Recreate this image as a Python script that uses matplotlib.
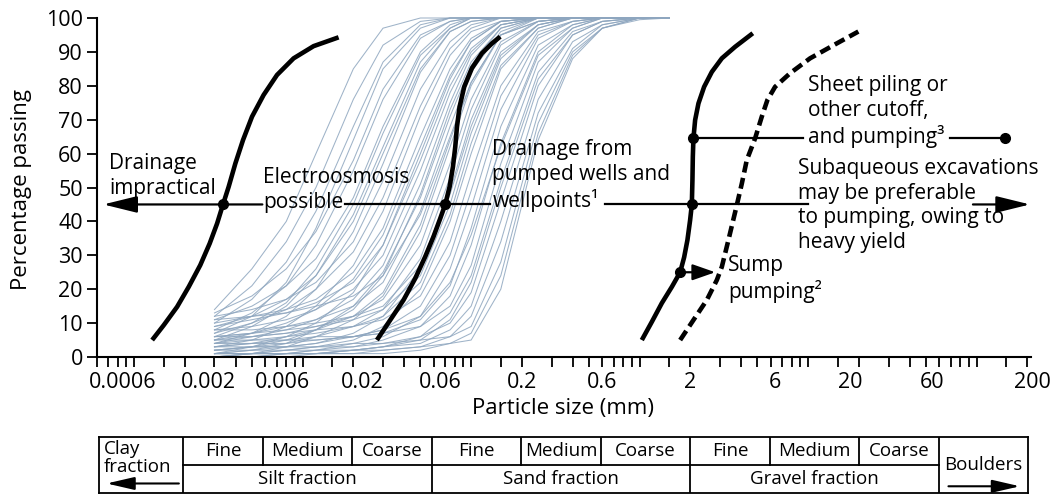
import numpy as np
import matplotlib
matplotlib.use('Agg')
import matplotlib.pyplot as plt
import matplotlib.ticker as mticker
from matplotlib.transforms import ScaledTranslation

plt.rcParams['font.family'] = ['Open Sans', 'DejaVu Sans']

# ---------------- data ----------------
sieve_mm = [0.003, 0.005, 0.008, 0.012, 0.02, 0.03, 0.05, 0.075, 0.1, 0.15, 0.25, 0.4, 0.6, 1.0, 1.5]

fine_soils = [
    [14, 26, 40, 60, 85, 97, 100, 100, 100, 100, 100, 100, 100, 100, 100],
    [12, 21, 34, 50, 76, 92, 99, 100, 100, 100, 100, 100, 100, 100, 100],
    [10, 17, 28, 43, 68, 87, 98, 100, 100, 100, 100, 100, 100, 100, 100],
    [13, 18, 26, 37, 58, 79, 95, 99, 100, 100, 100, 100, 100, 100, 100],
    [8, 13, 21, 33, 55, 76, 94, 99, 100, 100, 100, 100, 100, 100, 100],
    [11, 15, 21, 29, 47, 68, 90, 98, 100, 100, 100, 100, 100, 100, 100],
    [6, 10, 16, 26, 45, 66, 89, 97, 100, 100, 100, 100, 100, 100, 100],
    [9, 12, 17, 24, 40, 60, 85, 96, 99, 100, 100, 100, 100, 100, 100],
    [4, 7, 12, 20, 37, 57, 84, 96, 99, 100, 100, 100, 100, 100, 100],
    [12, 14, 17, 22, 34, 52, 79, 93, 98, 100, 100, 100, 100, 100, 100],
    [7, 12, 22, 38, 64, 85, 97, 100, 100, 100, 100, 100, 100, 100, 100],
    [5, 9, 15, 24, 42, 62, 87, 97, 100, 100, 100, 100, 100, 100, 100],
]
medium_soils = [
    [7, 10, 14, 20, 31, 47, 74, 91, 97, 100, 100, 100, 100, 100, 100],
    [3, 5, 9, 15, 27, 43, 71, 89, 96, 99, 100, 100, 100, 100, 100],
    [10, 12, 14, 17, 25, 38, 65, 85, 94, 99, 100, 100, 100, 100, 100],
    [5, 7, 10, 14, 23, 36, 62, 83, 93, 99, 100, 100, 100, 100, 100],
    [2, 3, 6, 10, 19, 33, 60, 82, 93, 99, 100, 100, 100, 100, 100],
    [8, 9, 11, 14, 20, 30, 55, 78, 90, 98, 100, 100, 100, 100, 100],
    [4, 6, 8, 11, 17, 27, 51, 75, 89, 98, 100, 100, 100, 100, 100],
    [1, 2, 4, 8, 14, 24, 48, 73, 87, 97, 100, 100, 100, 100, 100],
    [6, 7, 9, 11, 15, 22, 43, 68, 84, 96, 100, 100, 100, 100, 100],
    [11, 12, 13, 15, 18, 24, 42, 65, 81, 95, 100, 100, 100, 100, 100],
    [3, 4, 6, 8, 12, 19, 39, 64, 81, 95, 99, 100, 100, 100, 100],
    [0, 1, 3, 6, 11, 18, 37, 62, 80, 95, 99, 100, 100, 100, 100],
    [5, 6, 7, 9, 12, 17, 33, 57, 76, 93, 99, 100, 100, 100, 100],
    [2, 3, 4, 6, 9, 14, 29, 53, 73, 92, 99, 100, 100, 100, 100],
    [8, 8, 9, 10, 12, 15, 27, 49, 70, 90, 98, 100, 100, 100, 100],
    [1, 2, 3, 4, 7, 12, 26, 48, 68, 89, 98, 100, 100, 100, 100],
    [4, 5, 6, 7, 9, 12, 22, 42, 63, 86, 97, 100, 100, 100, 100],
    [0, 1, 2, 3, 5, 9, 20, 40, 60, 85, 97, 100, 100, 100, 100],
    [9, 11, 13, 16, 22, 33, 58, 80, 91, 98, 100, 100, 100, 100, 100],
    [1, 3, 5, 8, 15, 25, 47, 71, 86, 97, 100, 100, 100, 100, 100],
    [6, 7, 8, 9, 11, 14, 24, 45, 66, 88, 98, 100, 100, 100, 100],
]
coarse_soils = [
    [6, 6, 7, 8, 9, 11, 18, 34, 54, 80, 96, 99, 100, 100, 100],
    [2, 3, 3, 4, 6, 8, 15, 30, 49, 77, 95, 99, 100, 100, 100],
    [0, 1, 1, 2, 4, 6, 12, 26, 44, 73, 94, 99, 100, 100, 100],
    [3, 4, 4, 5, 6, 7, 11, 21, 38, 68, 92, 98, 100, 100, 100],
    [1, 1, 2, 2, 3, 5, 9, 18, 33, 63, 90, 98, 100, 100, 100],
    [5, 5, 5, 6, 6, 7, 9, 15, 27, 57, 87, 97, 100, 100, 100],
    [0, 0, 1, 1, 2, 3, 6, 13, 24, 52, 84, 96, 99, 100, 100],
    [2, 2, 2, 3, 3, 4, 6, 10, 19, 46, 80, 95, 99, 100, 100],
    [1, 1, 1, 1, 2, 3, 4, 8, 15, 40, 76, 93, 98, 100, 100],
    [0, 0, 0, 1, 1, 2, 3, 6, 12, 34, 72, 91, 98, 100, 100],
    [3, 3, 3, 3, 4, 4, 5, 6, 9, 28, 69, 90, 97, 100, 100],
    [0, 0, 1, 1, 1, 1, 2, 4, 7, 24, 66, 89, 97, 100, 100],
    [1, 1, 1, 1, 2, 2, 3, 4, 5, 20, 64, 88, 97, 99.5, 100],
    [4, 4, 5, 5, 6, 8, 12, 22, 36, 62, 89, 97, 100, 100, 100],
    [1, 1, 1, 2, 2, 3, 5, 11, 22, 50, 82, 95, 99, 100, 100],
]

# boundary curves (thick black)
impractical_x = [0.00128, 0.0015, 0.0018, 0.00211, 0.00247, 0.00281, 0.00311, 0.00337, 0.00364,
                 0.00399, 0.00443, 0.00501, 0.00587, 0.00705, 0.00884, 0.01162, 0.01635]
impractical_y = [5.0, 9.4, 14.8, 20.7, 27.1, 33.5, 39.4, 45.0, 50.2,
                 57.1, 64.0, 70.9, 77.3, 83.2, 88.1, 91.7, 94.3]
wells_x = [0.0276, 0.0331, 0.0397, 0.0466, 0.0534, 0.0598, 0.0656, 0.0702, 0.0745,
           0.078, 0.0805, 0.0824, 0.0854, 0.091, 0.1011, 0.1159, 0.1329, 0.1488]
wells_y = [5.0, 10.9, 16.8, 23.2, 29.6, 35.5, 40.9, 45.0, 50.2,
           56.1, 62.0, 67.9, 73.8, 79.7, 85.2, 89.6, 92.5, 94.5]
sump_x = [1.03, 1.182, 1.354, 1.553, 1.739, 1.836, 1.921, 1.993, 2.04, 2.057,
          2.068, 2.085, 2.134, 2.233, 2.413, 2.681, 3.074, 3.685, 4.692]
sump_y = [5.0, 10.4, 15.9, 20.7, 25.0, 29.4, 34.5, 40.4, 45.0, 52.2,
          59.1, 64.5, 69.9, 74.8, 79.7, 84.1, 88.1, 91.5, 95.5]
cutoff_x = [1.739, 2.085, 2.503, 2.871, 3.074, 3.363, 3.772, 4.04, 4.323,
            4.843, 5.306, 5.728, 6.363, 7.808, 10.26, 14.78, 19.85]
cutoff_y = [5.0, 10.9, 16.8, 22.7, 26.6, 34.5, 44.8, 51.2, 58.1,
            64.5, 70.9, 75.8, 79.7, 83.7, 88.1, 92.5, 96.0]

# annotation points
dot_x = [0.00337, 0.0702, 2.04, 1.739, 2.085, 148]
dot_y = [45, 45, 45, 25, 64.5, 64.5]

x_major = [0.0006, 0.002, 0.006, 0.02, 0.06, 0.2, 0.6, 2, 6, 20, 60, 200]
x_major_labels = ['0.0006', '0.002', '0.006', '0.02', '0.06', '0.2', '0.6', '2', '6', '20', '60', '200']
label_shift_px = [26, 24, 17, 9, 7, 0, 0, 0, 4, -9, -7, 5]
minor_mult = [1, 1.5, 3, 4, 5, 7, 8, 9]
decades = [0.0001, 0.001, 0.01, 0.1, 1, 10, 100]

sub_edges = [0.002, 0.006, 0.02, 0.06, 0.2, 0.6, 2, 6, 20, 60]
sub_names = ['Fine', 'Medium', 'Coarse'] * 3
fraction_edges = [0.002, 0.06, 2, 60]
fraction_names = ['Silt fraction', 'Sand fraction', 'Gravel fraction']

# ---------------- figure ----------------
W, H = 1059, 494
fig = plt.figure(figsize=(W / 100, H / 100), dpi=100)
ax = fig.add_axes([96.7 / W, 137 / H, 934.3 / W, 339 / H])
ax.set_xscale('log')
ax.set_xlim(0.0006, 210)
ax.set_ylim(0, 100)

blue = '#8ea6bf'
for group in (fine_soils, medium_soils, coarse_soils):
    for row in group:
        ax.plot(sieve_mm, row, color=blue, lw=0.75, alpha=0.85, clip_on=False, zorder=1)

kw = dict(color='black', lw=3.3, solid_capstyle='butt', solid_joinstyle='round', zorder=3)
ax.plot(impractical_x, impractical_y, **kw)
ax.plot(wells_x, wells_y, **kw)
ax.plot(sump_x, sump_y, **kw)
ax.plot(cutoff_x, cutoff_y, color='black', lw=3.3, dashes=(2.4, 1.2), zorder=3)

# horizontal decision lines
hl = dict(color='black', lw=1.6, zorder=4)
ax.plot([0.0179, 0.1297], [45, 45], **hl)
ax.plot([0.624, 9.98], [45, 45], **hl)
ax.plot([2.085, 9.33], [64.5, 64.5], **hl)
ax.plot([69.5, 148], [64.5, 64.5], **hl)
arr = dict(arrowstyle='-|>,head_length=1.3,head_width=0.32', color='black', lw=1.6,
           mutation_scale=16, shrinkA=0, shrinkB=0)
ax.annotate('', xy=(0.000657, 45), xytext=(0.00577, 45), arrowprops=arr, zorder=4)
ax.annotate('', xy=(207, 45), xytext=(95, 45), arrowprops=arr, zorder=4, annotation_clip=False)
arr2 = dict(arrowstyle='-|>,head_length=1.0,head_width=0.35', color='black', lw=1.6,
            mutation_scale=14, shrinkA=0, shrinkB=0)
ax.annotate('', xy=(2.81, 25), xytext=(1.739, 25), arrowprops=arr2, zorder=4)

ax.plot(dot_x, dot_y, 'o', color='black', ms=7, zorder=5, clip_on=False)

# texts (y = baseline of the last line)
fs = 15
tk = dict(fontsize=fs, va='baseline', ha='left', linespacing=1.25, zorder=6)
ax.text(0.000714, 48.1, 'Drainage\nimpractical', **tk)
ax.text(0.00585, 44.0, 'Electroosmosis\npossible', **tk)
ax.text(0.1335, 44.2, 'Drainage from\npumped wells and\nwellpoints\u00b9', **tk)
ax.text(9.98, 63.1, 'Sheet piling or\nother cutoff,\nand pumping\u00b3', **tk)
ax.text(8.71, 32.2, 'Subaqueous excavations\nmay be preferable\nto pumping, owing to\nheavy yield',
        fontsize=fs, va='baseline', ha='left', linespacing=1.22, zorder=6)
ax.text(3.35, 17.4, 'Sump\npumping\u00b2', **tk)

# axes styling
for s in ['top', 'right']:
    ax.spines[s].set_visible(False)
for s in ['left', 'bottom']:
    ax.spines[s].set_linewidth(1.5)
ax.set_yticks(range(0, 101, 10))
ax.tick_params(axis='y', direction='out', length=7, width=1.3, labelsize=15.5, pad=3)
ax.set_xticks(x_major)
ax.set_xticklabels(x_major_labels)
minor_vals = [d * m for d in decades for m in minor_mult if 0.0006 < d * m < 210 and d * m not in x_major]
ax.xaxis.set_minor_locator(mticker.FixedLocator(minor_vals))
ax.xaxis.set_minor_formatter(mticker.NullFormatter())
ax.tick_params(axis='x', which='both', direction='out', length=7, width=1.3, labelsize=15.5, pad=4)
for lab, dx in zip(ax.get_xticklabels(), label_shift_px):
    lab.set_transform(lab.get_transform() + ScaledTranslation(dx / 100, 0, fig.dpi_scale_trans))

fig.text(22 / W, 1 - 190 / H, 'Percentage passing', rotation=90, ha='center', va='center', fontsize=16)
fig.text(563 / W, 1 - 408 / H, 'Particle size (mm)', ha='center', va='center', fontsize=16)

# ---------------- classification table ----------------
tx = fig.add_axes([99 / W, 1 / H, 929 / W, 56 / H])
tx.set_xscale('log')
tx.set_xlim(0.00064, 201)
tx.set_ylim(0, 1)
tx.set_xticks([])
tx.xaxis.set_minor_locator(mticker.NullLocator())
tx.set_yticks([])
for s in tx.spines.values():
    s.set_linewidth(1.3)
for e in sub_edges:
    full = e in fraction_edges
    tx.plot([e, e], [0 if full else 0.5, 1], color='black', lw=1.3)
tx.plot([fraction_edges[0], fraction_edges[-1]], [0.5, 0.5], color='black', lw=1.3)
tfs = 13.5
for i, name in enumerate(sub_names):
    xc = np.sqrt(sub_edges[i] * sub_edges[i + 1])
    tx.text(xc, 0.75, name, ha='center', va='center', fontsize=tfs)
for i, name in enumerate(fraction_names):
    xc = np.sqrt(fraction_edges[i] * fraction_edges[i + 1])
    tx.text(xc, 0.25, name, ha='center', va='center', fontsize=tfs)
tx.text(0.00068, 0.94, 'Clay\nfraction', ha='left', va='top', fontsize=tfs, linespacing=1.0)
tx.text(np.sqrt(60 * 201), 0.5, 'Boulders', ha='center', va='center', fontsize=tfs)
arr3 = dict(arrowstyle='-|>,head_length=1.3,head_width=0.3', color='black', lw=1.5,
            mutation_scale=13, shrinkA=0, shrinkB=0)
tx.annotate('', xy=(0.00071, 0.17), xytext=(0.0019, 0.17), arrowprops=arr3)
tx.annotate('', xy=(180, 0.12), xytext=(68, 0.12), arrowprops=arr3)

fig.savefig('out.png', dpi=100)
